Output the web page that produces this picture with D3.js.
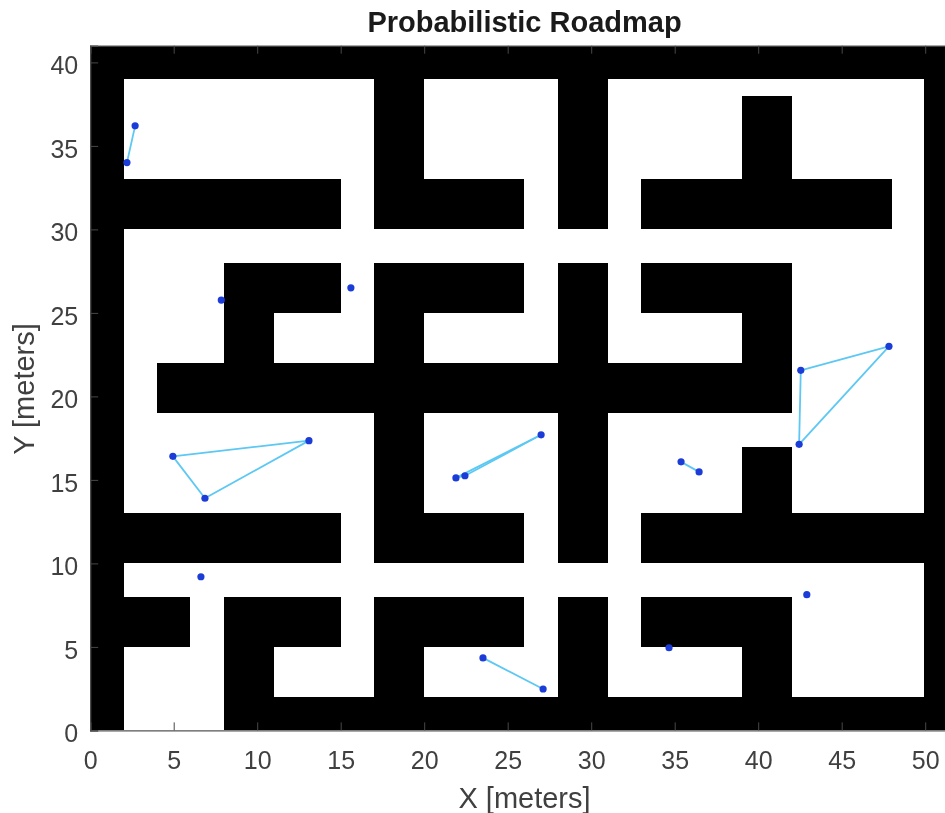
<!DOCTYPE html>
<html>
<head>
<meta charset="utf-8">
<script src="https://cdn.jsdelivr.net/npm/d3@7"></script>
<style>
  html, body { margin: 0; padding: 0; background: #fff; overflow: hidden; }
  svg { display: block; filter: blur(0.7px); }
  text { font-family: "Liberation Sans", Arial, sans-serif; fill: #404040; }
</style>
</head>
<body>
<script>
// map obstacles, [xMin, xMax, yMin, yMax] in meters
var walls = [
  [0, 2, 0, 41], [0, 52, 39, 41], [49.92, 52, 0, 41], [8, 52, 0, 2],
  [0, 15, 30, 33], [17, 20, 30, 39], [17, 26, 30, 33], [28, 31, 30, 39],
  [33, 48, 30, 33], [39, 42, 33, 38],
  [8, 15, 25, 28], [8, 11, 22, 25], [4, 42, 19, 22],
  [17, 20, 10, 28], [17, 26, 25, 28], [28, 31, 10, 28], [33, 42, 25, 28], [39, 42, 19, 28],
  [0, 15, 10, 13], [17, 26, 10, 13], [33, 52, 10, 13], [39, 42, 13, 17],
  [0, 6, 5, 8], [8, 15, 5, 8], [8, 11, 0, 5], [17, 26, 5, 8], [17, 20, 0, 8],
  [28, 31, 0, 8], [33, 42, 5, 8], [39, 42, 0, 8]
];

// roadmap nodes
var nodeX = [2.69, 2.2, 7.85, 15.61, 4.95, 13.1, 6.87, 6.63, 21.9, 22.44, 27.0, 35.38, 36.46, 23.52, 27.12, 34.66, 42.91, 42.55, 47.83, 42.45];
var nodeY = [36.2, 34.0, 25.77, 26.5, 16.41, 17.35, 13.9, 9.2, 15.12, 15.25, 17.7, 16.08, 15.48, 4.34, 2.48, 4.95, 8.13, 21.56, 23.0, 17.13];

// node index pairs
var edges = [[0, 1], [4, 5], [4, 6], [5, 6], [8, 9], [8, 10], [9, 10], [11, 12], [13, 14], [17, 18], [17, 19], [18, 19]];

var xTicks = [0, 5, 10, 15, 20, 25, 30, 35, 40, 45, 50];
var yTicks = [0, 5, 10, 15, 20, 25, 30, 35, 40];

var w = 945;
var h = 813;

var xScale = d3.scaleLinear().domain([0, 52]).range([90.2, 958.6]);
var yScale = d3.scaleLinear().domain([0, 41]).range([730.4, 45.7]);

var svg = d3.select("body").append("svg")
  .attr("width", w)
  .attr("height", h);

// walls
svg.append("g")
  .attr("shape-rendering", "crispEdges")
  .selectAll("rect")
  .data(walls)
  .enter()
  .append("rect")
  .attr("x", function(d) { return Math.round(xScale(d[0])); })
  .attr("y", function(d) { return Math.round(yScale(d[3])); })
  .attr("width", function(d) { return Math.round(xScale(d[1])) - Math.round(xScale(d[0])); })
  .attr("height", function(d) { return Math.round(yScale(d[2])) - Math.round(yScale(d[3])); })
  .attr("fill", "black");

// edges
svg.append("g").selectAll("line")
  .data(edges)
  .enter()
  .append("line")
  .attr("x1", function(d) { return xScale(nodeX[d[0]]); })
  .attr("y1", function(d) { return yScale(nodeY[d[0]]); })
  .attr("x2", function(d) { return xScale(nodeX[d[1]]); })
  .attr("y2", function(d) { return yScale(nodeY[d[1]]); })
  .attr("stroke", "#5cc8f3")
  .attr("stroke-width", 1.8);

// nodes
svg.append("g").selectAll("circle")
  .data(nodeX)
  .enter()
  .append("circle")
  .attr("cx", function(d) { return xScale(d); })
  .attr("cy", function(d, i) { return yScale(nodeY[i]); })
  .attr("r", 3.6)
  .attr("fill", "#1c3cd8");

// axes
var xAxis = svg.append("g")
  .attr("transform", "translate(0," + yScale(0) + ")")
  .call(d3.axisBottom(xScale).tickValues(xTicks).tickSize(-8).tickPadding(21));

var yAxis = svg.append("g")
  .attr("transform", "translate(" + xScale(0) + ",0)")
  .call(d3.axisLeft(yScale).tickValues(yTicks).tickSize(-8).tickPadding(12));

var topAxis = svg.append("g")
  .attr("transform", "translate(0," + yScale(41) + ")")
  .call(d3.axisTop(xScale).tickValues(xTicks).tickSize(-8).tickFormat(""));

[xAxis, yAxis, topAxis].forEach(function(a) {
  a.selectAll("text").style("font-size", "25px").style("font-family", '"Liberation Sans", Arial, sans-serif').attr("fill", "#404040");
  a.selectAll("path").attr("stroke", "#555").attr("stroke-width", 1.2);
  a.selectAll("line").attr("stroke", "#484848").attr("stroke-width", 1);
});
yAxis.selectAll("text").attr("dy", "0.46em");

// title and labels
svg.append("text")
  .attr("x", 524.5)
  .attr("y", 32)
  .attr("text-anchor", "middle")
  .attr("font-size", 29)
  .attr("font-weight", "bold")
  .style("fill", "#1a1a1a")
  .text("Probabilistic Roadmap");

svg.append("text")
  .attr("x", 524.5)
  .attr("y", 808)
  .attr("text-anchor", "middle")
  .attr("font-size", 29)
  .text("X [meters]");

svg.append("text")
  .attr("transform", "translate(34,389) rotate(-90)")
  .attr("text-anchor", "middle")
  .attr("font-size", 29)
  .text("Y [meters]");
</script>
</body>
</html>
